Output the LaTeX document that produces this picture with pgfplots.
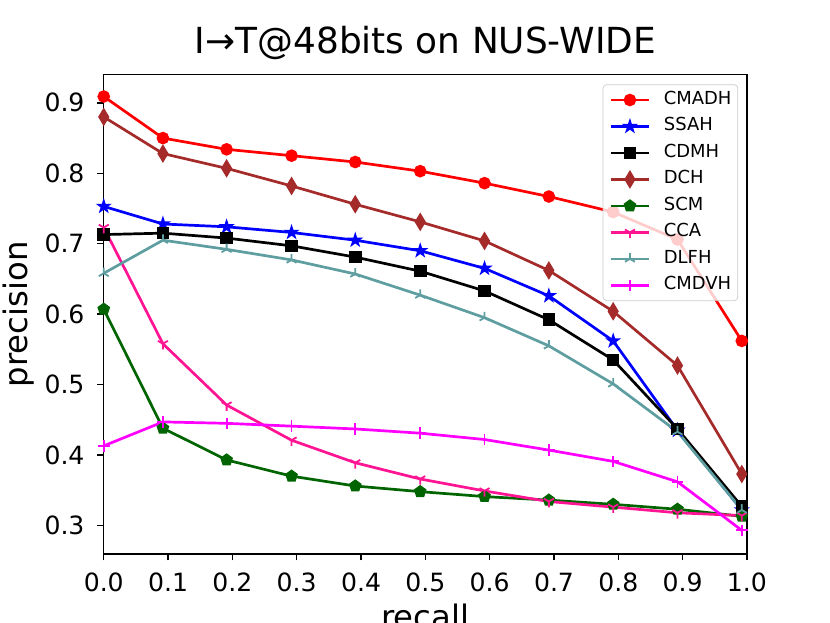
\documentclass[border=0pt]{standalone}
\usepackage{fontspec}
\setmainfont{DejaVu Sans}
\usepackage{pgfplots}
\usepackage{pgfplotstable}
\pgfplotsset{compat=1.18}
\usetikzlibrary{plotmarks}
\definecolor{mbrown}{HTML}{A52A2A}
\definecolor{mdgreen}{HTML}{006400}
\definecolor{mdeeppink}{HTML}{FF1493}
\definecolor{mcadet}{HTML}{5F9EA0}
\definecolor{mmagenta}{HTML}{FF00FF}
\pgfdeclareplotmark{fstar}{%
  \pgfpathmoveto{\pgfqpointpolar{90}{\pgfplotmarksize}}%
  \pgfpathlineto{\pgfqpointpolar{126}{0.382\pgfplotmarksize}}%
  \pgfpathlineto{\pgfqpointpolar{162}{\pgfplotmarksize}}%
  \pgfpathlineto{\pgfqpointpolar{198}{0.382\pgfplotmarksize}}%
  \pgfpathlineto{\pgfqpointpolar{234}{\pgfplotmarksize}}%
  \pgfpathlineto{\pgfqpointpolar{270}{0.382\pgfplotmarksize}}%
  \pgfpathlineto{\pgfqpointpolar{306}{\pgfplotmarksize}}%
  \pgfpathlineto{\pgfqpointpolar{342}{0.382\pgfplotmarksize}}%
  \pgfpathlineto{\pgfqpointpolar{18}{\pgfplotmarksize}}%
  \pgfpathlineto{\pgfqpointpolar{54}{0.382\pgfplotmarksize}}%
  \pgfpathclose
  \pgfusepathqfillstroke
}
\pgfplotstableread{
x      CMADH  SSAH   CDMH   DCH    SCM    CCA    DLFH   CMDVH
0.000  0.909  0.753  0.713  0.880  0.607  0.723  0.658  0.413
0.092  0.850  0.728  0.715  0.828  0.438  0.558  0.705  0.447
0.191  0.834  0.724  0.708  0.807  0.393  0.471  0.692  0.445
0.292  0.825  0.716  0.697  0.782  0.370  0.421  0.677  0.441
0.391  0.816  0.705  0.681  0.756  0.356  0.389  0.657  0.437
0.492  0.803  0.690  0.661  0.731  0.348  0.366  0.627  0.431
0.592  0.786  0.665  0.633  0.704  0.341  0.349  0.595  0.422
0.692  0.767  0.626  0.592  0.662  0.336  0.334  0.555  0.407
0.792  0.745  0.562  0.535  0.604  0.330  0.326  0.501  0.391
0.892  0.706  0.435  0.437  0.527  0.323  0.318  0.433  0.362
0.992  0.562  0.322  0.327  0.373  0.313  0.314  0.322  0.293
}\datatable
\begin{document}
\begin{tikzpicture}
\begin{axis}[name=ax,
  scale only axis, width=357.1bp, height=266.1bp,
  xmin=0, xmax=1, ymin=0.2594, ymax=0.9399,
  xtick={0,0.1,0.2,0.3,0.4,0.5,0.6,0.7,0.8,0.9,1.0},
  ytick={0.3,0.4,0.5,0.6,0.7,0.8,0.9},
  tick pos=left, tick align=outside, major tick length=3.5bp,
  tick style={black, line width=0.8bp},
  axis line style={line width=0.8bp},
  /pgf/number format/assume math mode=true,
  xticklabel style={/pgf/number format/.cd, fixed, fixed zerofill, precision=1, /tikz/.cd, font=\fontsize{14}{16}\selectfont, inner sep=0pt, anchor=north, yshift=-7bp},
  yticklabel style={/pgf/number format/.cd, fixed, fixed zerofill, precision=1, /tikz/.cd, font=\fontsize{14}{16}\selectfont, inner sep=0pt, anchor=east, xshift=-7bp},
  title={I→T@48bits on NUS-WIDE},
  title style={at={(axis description cs:0.5,1)}, anchor=base, yshift=6bp, font=\fontsize{20}{24}\selectfont, inner sep=0pt},
  xlabel={recall},
  xlabel style={at={(axis description cs:0.5,-0.1030)}, anchor=north, inner sep=0pt, font=\fontsize{18}{22}\selectfont},
  ylabel={precision},
  ylabel style={at={(axis description cs:-0.107,0.5)}, anchor=south, inner sep=0pt, font=\fontsize{18}{22}\selectfont},
  legend style={at={(axis description cs:0.9863,0.980)}, anchor=north east,
    draw=black!20, fill=white, fill opacity=0.8, text opacity=1, draw opacity=1,
    rounded corners=2bp, font=\fontsize{10}{12}\selectfont,
    inner xsep=3.5bp, inner ysep=3.5bp, row sep=4.7bp, column sep=7.4bp,
    nodes={inner sep=0pt, text height=7.5bp, text depth=2.5bp},
    cells={anchor=west}},
  legend image code/.code={\draw[mark repeat=2, mark phase=2, opacity=1] plot coordinates {(0bp,0bp) (10.7bp,0bp) (21.4bp,0bp)};},
  every axis plot/.append style={line width=1.5bp},
]
\addplot[red, mark=*, mark size=3bp, mark options={solid, line width=1bp}] table[x=x, y=CMADH] {\datatable};
\addlegendentry{CMADH}
\addplot[blue, mark=fstar, mark size=3.1bp, mark options={solid, fill=blue, line width=1bp}] table[x=x, y=SSAH] {\datatable};
\addlegendentry{SSAH}
\addplot[black, mark=square*, mark size=3bp, mark options={solid, line width=1bp}] table[x=x, y=CDMH] {\datatable};
\addlegendentry{CDMH}
\addplot[mbrown, mark=diamond*, mark size=4.24bp, mark options={solid, xscale=0.8, line width=1bp}] table[x=x, y=DCH] {\datatable};
\addlegendentry{DCH}
\addplot[mdgreen, mark=pentagon*, mark size=3.1bp, mark options={solid, line width=1bp}] table[x=x, y=SCM] {\datatable};
\addlegendentry{SCM}
\addplot[mdeeppink, mark=Mercedes star flipped, mark size=3.2bp, mark options={solid, line width=1bp}] table[x=x, y=CCA] {\datatable};
\addlegendentry{CCA}
\addplot[mcadet, mark=Mercedes star, mark size=3.2bp, mark options={solid, line width=1bp}] table[x=x, y=DLFH] {\datatable};
\addlegendentry{DLFH}
\addplot[mmagenta, mark=+, mark size=3.2bp, mark options={solid, line width=1bp}] table[x=x, y=CMDVH] {\datatable};
\addlegendentry{CMDVH}
\end{axis}
\pgfresetboundingbox
\path[use as bounding box] ([shift={(-57.6bp,-38bp)}]ax.south west) rectangle ([shift={(46.1bp,41.5bp)}]ax.north east);
\end{tikzpicture}
\end{document}
